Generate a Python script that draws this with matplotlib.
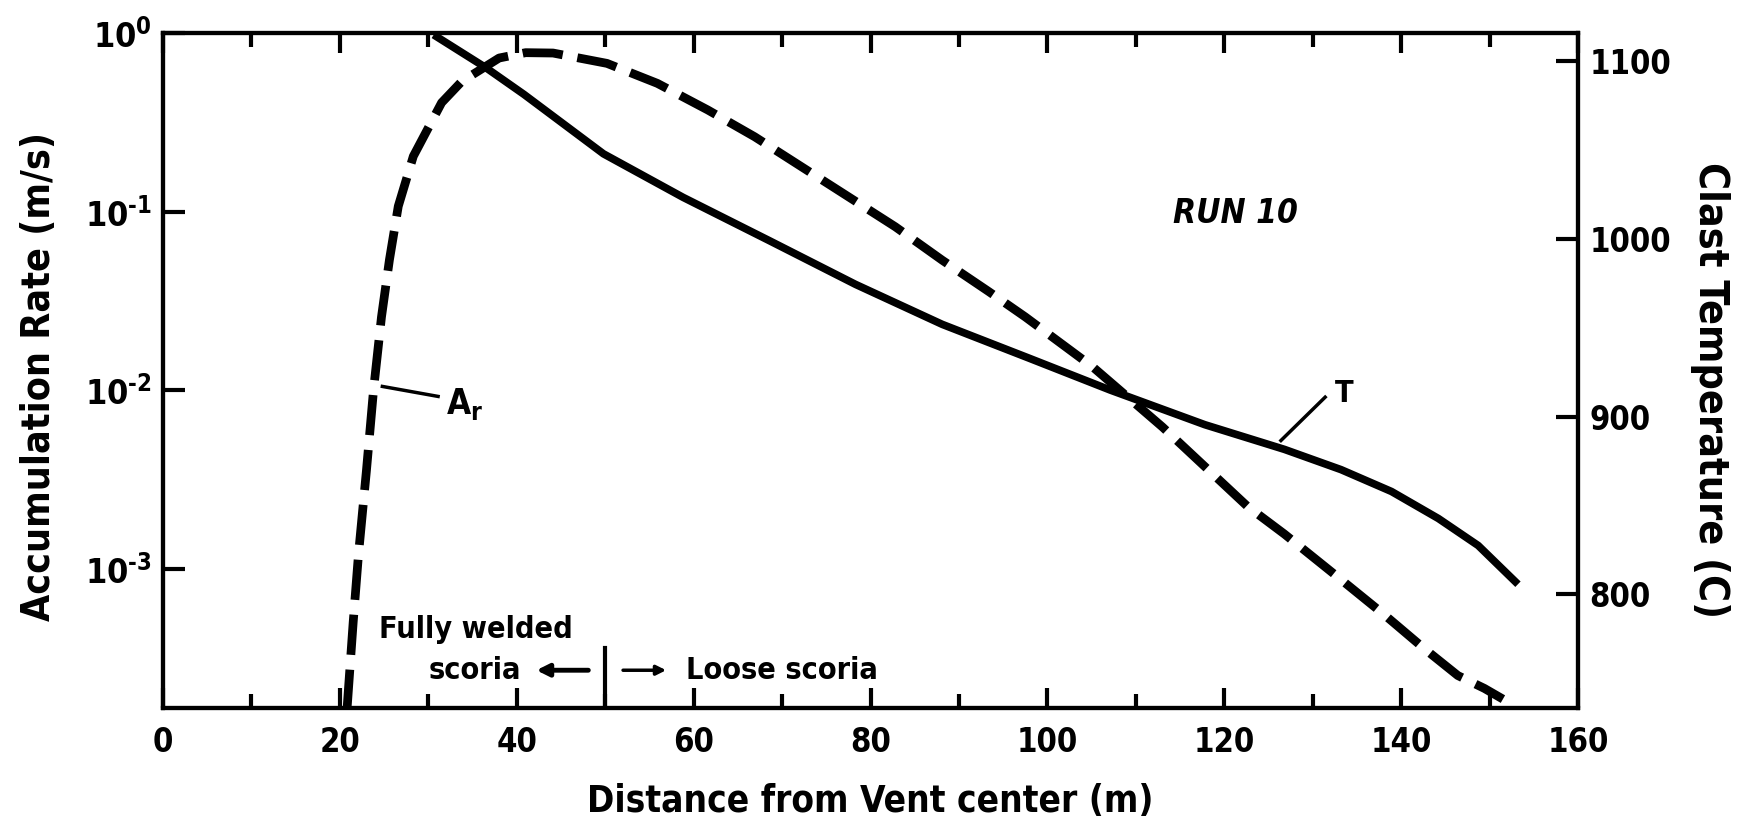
import matplotlib.pyplot as plt
import numpy as np

plt.rcParams['font.family'] = ['DejaVu Sans']
plt.rcParams['font.stretch'] = 'condensed'
plt.rcParams['font.weight'] = 'bold'
plt.rcParams['axes.labelweight'] = 'bold'
plt.rcParams['mathtext.fontset'] = 'custom'
plt.rcParams['mathtext.bf'] = 'DejaVu Sans:bold'
plt.rcParams['mathtext.rm'] = 'DejaVu Sans:bold'
plt.rcParams['mathtext.default'] = 'bf'

# accumulation rate A_r (m/s), log scale, dashed
ar_x = [20.8, 21.5, 22.1, 23.0, 23.8, 24.7, 25.6, 26.6, 28.3, 31.5, 33.8, 38.0, 41.0, 44.1,
        50.2, 55.9, 61.6, 66.9, 72.2, 77.5, 82.8, 88.1, 93.4, 97.5, 105.1, 113.0,
        122.6, 126.8, 132.5, 138.1, 142.6, 146.4, 149.4, 151.5]
ar_log = [-3.79, -3.30, -2.92, -2.45, -2.00, -1.59, -1.27, -0.97, -0.69, -0.39, -0.27, -0.14, -0.11, -0.112,
          -0.170, -0.282, -0.431, -0.581, -0.749, -0.917, -1.085, -1.272, -1.449, -1.59, -1.869, -2.206,
          -2.65, -2.806, -3.033, -3.258, -3.447, -3.598, -3.67, -3.73]
ar_y = [10 ** v for v in ar_log]

# clast temperature T (C), solid
t_x = [30.6, 36.5, 40.8, 49.8, 58.8, 68.6, 78.3, 88.1, 97.9, 107.1, 117.8, 126.8, 133.2, 138.9, 144.2, 148.7, 153.2]
t_y = [1115.0, 1096.5, 1081.5, 1048.0, 1023.5, 999.0, 974.5, 952.0, 933.0, 915.0, 895.5, 881.6, 870.2, 857.9, 842.7, 827.5, 805.7]

x_ticks = [0, 20, 40, 60, 80, 100, 120, 140, 160]
left_ticks = [1, 0.1, 0.01, 0.001]
left_labels = [r'$10^{0}$', r'$10^{\text{-}1}$', r'$10^{\text{-}2}$', r'$10^{\text{-}3}$']
right_ticks = [800, 900, 1000, 1100]

fig = plt.figure(figsize=(17.38, 8.32), dpi=100)
ax = fig.add_axes([0.0938, 0.149, 0.8142, 0.8113])
ax2 = ax.twinx()

ax.plot(ar_x, ar_y, color='black', lw=6.3, dashes=(4.6, 1.7), dash_capstyle='butt')
ax2.plot(t_x, t_y, color='black', lw=5.5, solid_capstyle='butt')

ax.set_yscale('log')
ax.set_xlim(0, 160)
ax.set_ylim(10 ** -3.78, 1)
ax2.set_ylim(736, 1116)

ax.set_xticks(x_ticks)
ax.set_xticklabels([str(v) for v in x_ticks], fontsize=23.5)
ax.set_xticks(np.arange(10, 160, 20), minor=True)
ax.set_yticks(left_ticks)
ax.set_yticklabels(left_labels, fontsize=24.5)
ax.yaxis.set_minor_locator(plt.NullLocator())
ax2.set_yticks(right_ticks)
ax2.set_yticklabels([str(v) for v in right_ticks], fontsize=23.5)

ax.tick_params(axis='x', which='major', direction='in', length=14.5, width=3, top=True, pad=13)
ax.tick_params(axis='x', which='minor', direction='in', length=10, width=3, top=True)
ax.tick_params(axis='y', which='major', direction='in', length=16, width=3, pad=8)
ax2.tick_params(axis='y', direction='in', length=16, width=3, pad=8)
for a in (ax, ax2):
    for s in a.spines.values():
        s.set_linewidth(3)

ax.set_xlabel('Distance from Vent center (m)', fontsize=26.5, labelpad=17)
fig.text(0.0222, 0.548, 'Accumulation Rate (m/s)', fontsize=28.2, rotation=90, ha='center', va='center')
fig.text(0.984, 0.531, 'Clast Temperature (C)', fontsize=29.5, rotation=270, ha='center', va='center')

ax.text(121.2, 0.098, 'RUN 10', fontsize=24, style='italic', ha='center', va='center')

# A_r label
ax.plot([24.8, 31.1], [10 ** -1.979, 10 ** -2.035], color='black', lw=2.5)
ax.text(32.0, 10 ** -2.08, r'A$_{\mathbf{r}}$', fontsize=25, ha='left', va='center')

# T label
ax2.plot([126.4, 131.4], [886.6, 911.0], color='black', lw=2.5)
ax2.text(133.6, 913, 'T', fontsize=22, ha='center', va='center')

# welded / loose divider
ax.axvline(50, ymin=0, ymax=0.089, color='black', lw=3)
ax.text(35.4, 0.116, 'Fully welded', transform=ax.get_xaxis_transform(), fontsize=22, ha='center', va='center')
ax.text(35.3, 0.055, 'scoria', transform=ax.get_xaxis_transform(), fontsize=22, ha='center', va='center')
ax.annotate('', xy=(41.9, 0.056), xytext=(48.4, 0.056), xycoords=ax.get_xaxis_transform(),
            arrowprops=dict(arrowstyle='-|>', color='black', lw=3.5, mutation_scale=18))
ax.annotate('', xy=(57.2, 0.056), xytext=(51.7, 0.056), xycoords=ax.get_xaxis_transform(),
            arrowprops=dict(arrowstyle='-|>', color='black', lw=2.5, mutation_scale=14))
ax.text(59.1, 0.055, 'Loose scoria', transform=ax.get_xaxis_transform(), fontsize=22, ha='left', va='center')

fig.savefig('out.png', dpi=100)
